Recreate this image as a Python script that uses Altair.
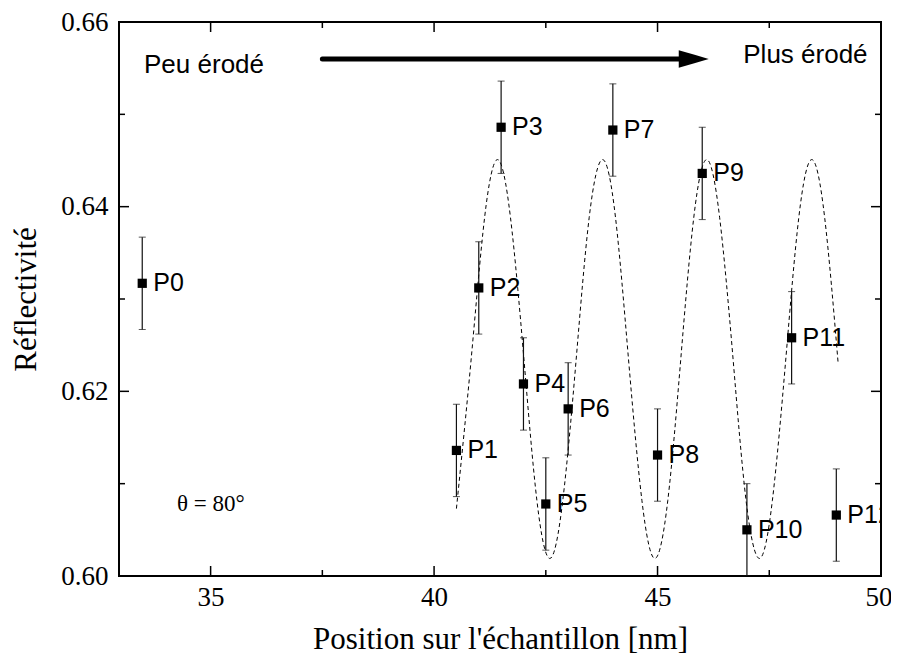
import altair as alt
import pandas as pd

# ---- data ----
labels = ["P0", "P1", "P2", "P3", "P4", "P5", "P6", "P7", "P8", "P9", "P10", "P11", "P12"]
pos_x = [33.47, 40.5, 41.0, 41.5, 42.0, 42.5, 43.0, 44.0, 45.0, 46.0, 47.0, 48.0, 49.0]
refl = [0.6317, 0.6136, 0.6312, 0.6486, 0.6208, 0.6078, 0.6181, 0.6483, 0.6131, 0.6436, 0.6050, 0.6258, 0.6066]
err = [0.005, 0.005, 0.005, 0.005, 0.005, 0.005, 0.005, 0.005, 0.005, 0.005, 0.005, 0.005, 0.005]

# dashed fitted curve
curve_x = [40.50, 40.83, 41.13, 41.42, 41.71, 42.01, 42.30, 42.59, 42.88, 43.18,
           43.47, 43.77, 44.06, 44.35, 44.65, 44.94, 45.23, 45.52, 45.81, 46.10,
           46.39, 46.69, 46.98, 47.28, 47.57, 47.87, 48.16, 48.45, 48.74, 49.04]
curve_y = [0.6073, 0.6235, 0.6388, 0.6451, 0.6388, 0.6235, 0.6082, 0.6019, 0.6082, 0.6235,
           0.6388, 0.6451, 0.6388, 0.6235, 0.6082, 0.6019, 0.6082, 0.6235, 0.6388, 0.6451,
           0.6388, 0.6235, 0.6082, 0.6019, 0.6082, 0.6235, 0.6388, 0.6451, 0.6388, 0.6231]

x_major = [35, 40, 45, 50]
x_minor = [37.5, 42.5, 47.5]
y_major = [0.60, 0.62, 0.64, 0.66]
y_minor = [0.61, 0.63, 0.65]

x_title = "Position sur l'échantillon [nm]"
y_title = "Réflectivité"

# annotations
arrow_x = [37.50, 45.60]
arrow_y = [0.6560, 0.6560]
head_x = [45.81]
head_y = [0.6560]
notes_left = ["Peu érodé", "θ = 80°"]
notes_right = ["Plus érodé"]

W, H = 762, 554
SERIF = "Liberation Serif"
SANS = "Liberation Sans"

xscale = alt.Scale(domain=[32.95, 50], nice=False, zero=False)
yscale = alt.Scale(domain=[0.60, 0.66], nice=False, zero=False)
xaxis = alt.Axis(values=x_major, format="d", ticks=False, domain=False, grid=False,
                 labelFont=SERIF, labelFontSize=27, labelColor="black", labelPadding=8,
                 titleFont=SERIF, titleFontSize=31, titleFontWeight="normal", titleColor="black",
                 titlePadding=14, labelFlush=1, labelFlushOffset=11)
yaxis = alt.Axis(values=y_major, format=".2f", ticks=False, domain=False, grid=False,
                 labelFont=SERIF, labelFontSize=27, labelColor="black", labelPadding=11,
                 titleFont=SERIF, titleFontSize=31, titleFontWeight="normal", titleColor="black",
                 titlePadding=18, labelFlush=False)


def X(field="x"):
    return alt.X(f"{field}:Q", scale=xscale, axis=xaxis, title=x_title)


def Y(field="y"):
    return alt.Y(f"{field}:Q", scale=yscale, axis=yaxis, title=y_title)


pts = pd.DataFrame({"x": pos_x, "y": refl, "err": err, "label": labels})
pts["lo"] = pts["y"] - pts["err"]
pts["hi"] = pts["y"] + pts["err"]
curve = pd.DataFrame({"x": curve_x, "y": curve_y})

base = alt.Chart(pts)

err_rule = base.mark_rule(color="#111111", strokeWidth=1.2, clip=True).encode(
    x=X(), y=Y("lo"), y2=alt.Y2("hi:Q"))
cap_lo = base.mark_tick(orient="horizontal", size=7, thickness=1, color="#111111", clip=True).encode(
    x=X(), y=Y("lo"))
cap_hi = base.mark_tick(orient="horizontal", size=7, thickness=1, color="#111111", clip=True).encode(
    x=X(), y=Y("hi"))
squares = base.mark_square(size=85, color="black", opacity=1, clip=True).encode(x=X(), y=Y())
text = base.mark_text(align="left", baseline="middle", dx=11, font=SANS, fontSize=25,
                      color="black", clip=True).encode(x=X(), y=Y(), text="label:N")

fit = alt.Chart(curve).mark_line(color="black", strokeWidth=1, strokeDash=[4, 3],
                                 interpolate="natural", clip=True).encode(x=X(), y=Y())

arrow = alt.Chart(pd.DataFrame({"x": arrow_x, "y": arrow_y})).mark_line(
    color="black", strokeWidth=5, strokeCap="round").encode(x=X(), y=Y())
head = alt.Chart(pd.DataFrame({"x": head_x, "y": head_y})).mark_point(
    shape="M-1,-0.58Q0,-0.3 1,0Q0,0.3 -1,0.58Z", size=900, filled=True, color="black", opacity=1).encode(x=X(), y=Y())

t_peu = alt.Chart(pd.DataFrame({"x": [33.51], "y": [0.6553], "t": [notes_left[0]]})).mark_text(
    align="left", baseline="middle", font=SANS, fontSize=26, color="black").encode(x=X(), y=Y(), text="t:N")
t_theta = alt.Chart(pd.DataFrame({"x": [34.25], "y": [0.6078], "t": [notes_left[1]]})).mark_text(
    align="left", baseline="middle", font=SERIF, fontSize=23, color="black").encode(x=X(), y=Y(), text="t:N")
t_plus = alt.Chart(pd.DataFrame({"x": [49.70], "y": [0.6564], "t": notes_right})).mark_text(
    align="right", baseline="middle", font=SANS, fontSize=26, color="black").encode(x=X(), y=Y(), text="t:N")

# inward ticks on all four sides
xmaj = alt.Chart(pd.DataFrame({"x": x_major}))
xmin = alt.Chart(pd.DataFrame({"x": x_minor}))
ymaj = alt.Chart(pd.DataFrame({"y": y_major}))
ymin = alt.Chart(pd.DataFrame({"y": y_minor}))
tick_style = dict(color="black", strokeWidth=1.5)
tick_layers = [
    xmaj.mark_rule(**tick_style).encode(x=X(), y=alt.value(H), y2=alt.value(H - 10)),
    xmaj.mark_rule(**tick_style).encode(x=X(), y=alt.value(0), y2=alt.value(10)),
    xmin.mark_rule(**tick_style).encode(x=X(), y=alt.value(H), y2=alt.value(H - 6)),
    xmin.mark_rule(**tick_style).encode(x=X(), y=alt.value(0), y2=alt.value(6)),
    ymaj.mark_rule(**tick_style).encode(y=Y(), x=alt.value(0), x2=alt.value(10)),
    ymaj.mark_rule(**tick_style).encode(y=Y(), x=alt.value(W), x2=alt.value(W - 10)),
    ymin.mark_rule(**tick_style).encode(y=Y(), x=alt.value(0), x2=alt.value(6)),
    ymin.mark_rule(**tick_style).encode(y=Y(), x=alt.value(W), x2=alt.value(W - 6)),
]

chart = alt.layer(
    fit, err_rule, cap_lo, cap_hi, squares, text, arrow, head, t_peu, t_theta, t_plus, *tick_layers
).properties(
    width=W, height=H,
    autosize=alt.AutoSizeParams(type="none"),
    padding={"left": 111, "top": 14, "right": 10, "bottom": 87},
    background="white",
).configure_view(stroke="black", strokeWidth=2)

chart.save("out.html", embed_options={"renderer": "svg", "actions": False})
